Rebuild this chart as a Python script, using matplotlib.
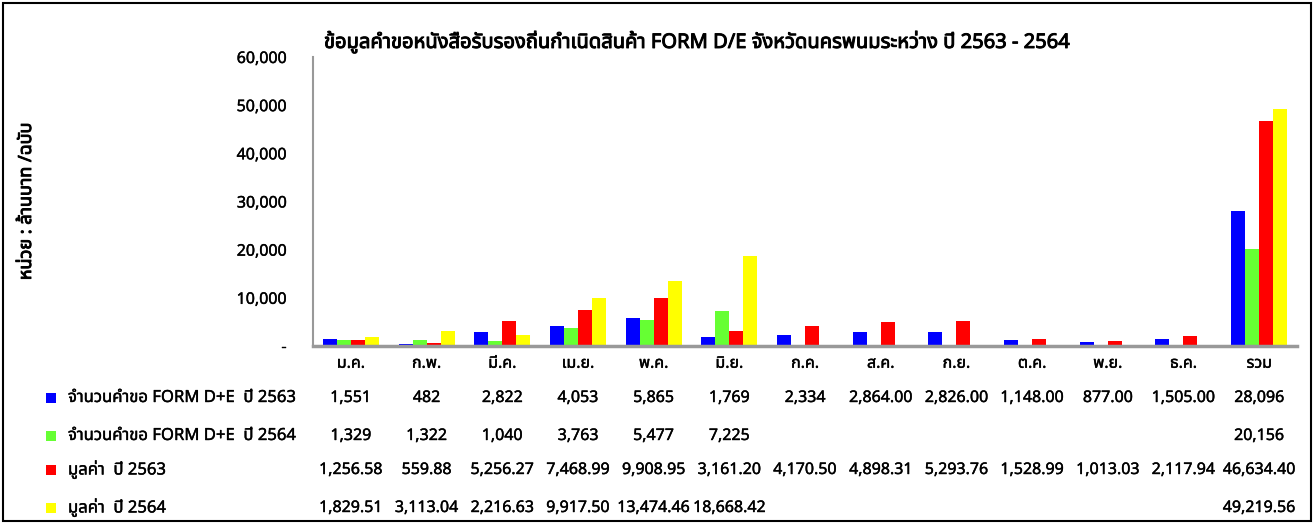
import numpy as np
import matplotlib
matplotlib.use("Agg")
import matplotlib.pyplot as plt
import matplotlib.patheffects as pe
from matplotlib import font_manager as fm
from matplotlib.ft2font import FT2Font
from matplotlib.patches import Rectangle

# ---------------- data ----------------
categories = ["ม.ค.", "ก.พ.", "มี.ค.", "เม.ย.", "พ.ค.", "มิ.ย.", "ก.ค.", "ส.ค.",
              "ก.ย.", "ต.ค.", "พ.ย.", "ธ.ค.", "รวม"]
series_names = ["จำนวนคำขอ FORM D+E  ปี 2563", "จำนวนคำขอ FORM D+E  ปี 2564",
                "มูลค่า  ปี 2563", "มูลค่า  ปี 2564"]
count_2563 = [1551, 482, 2822, 4053, 5865, 1769, 2334, 2864.00, 2826.00, 1148.00, 877.00, 1505.00, 28096]
count_2564 = [1329, 1322, 1040, 3763, 5477, 7225, None, None, None, None, None, None, 20156]
value_2563 = [1256.58, 559.88, 5256.27, 7468.99, 9908.95, 3161.20, 4170.50, 4898.31,
              5293.76, 1528.99, 1013.03, 2117.94, 46634.40]
value_2564 = [1829.51, 3113.04, 2216.63, 9917.50, 13474.46, 18668.42, None, None, None,
              None, None, None, 49219.56]
table_text = [
    ["1,551", "482", "2,822", "4,053", "5,865", "1,769", "2,334", "2,864.00", "2,826.00",
     "1,148.00", "877.00", "1,505.00", "28,096"],
    ["1,329", "1,322", "1,040", "3,763", "5,477", "7,225", "", "", "", "", "", "", "20,156"],
    ["1,256.58", "559.88", "5,256.27", "7,468.99", "9,908.95", "3,161.20", "4,170.50",
     "4,898.31", "5,293.76", "1,528.99", "1,013.03", "2,117.94", "46,634.40"],
    ["1,829.51", "3,113.04", "2,216.63", "9,917.50", "13,474.46", "18,668.42", "", "", "",
     "", "", "", "49,219.56"],
]
y_ticks = [0, 10000, 20000, 30000, 40000, 50000, 60000]
y_tick_labels = ["-", "10,000", "20,000", "30,000", "40,000", "50,000", "60,000"]
title = "ข้อมูลคำขอหนังสือรับรองถิ่นกำเนิดสินค้า FORM D/E จังหวัดนครพนมระหว่าง ปี 2563 - 2564"
y_label = "หน่วย : ล้านบาท /ฉบับ"
colors = ["#0000FF", "#66FF33", "#FF0000", "#FFFF00"]

# ---------------- font selection (Thai-capable) ----------------
preferred = ["Tahoma", "Leelawadee UI", "Leelawadee", "Noto Sans Thai", "Noto Sans Thai UI",
             "Loma", "Garuda", "Waree", "Sarabun", "Kinnari", "Norasi", "Umpush"]
thai_fams = []
for f in fm.fontManager.ttflist:
    try:
        cm = FT2Font(f.fname).get_charmap()
        if 0x0E01 in cm and 0x0E33 in cm and 0x0E49 in cm:
            thai_fams.append(f.name)
    except Exception:
        pass
thai_font = None
for p in preferred:
    if p in thai_fams:
        thai_font = p
        break
if thai_font is None and thai_fams:
    thai_font = sorted(set(thai_fams))[0]
families = ([thai_font] if thai_font else []) + ["DejaVu Sans"]
plt.rcParams["font.family"] = families

bold_fx = [pe.withStroke(linewidth=0.7, foreground="black")]
semi_fx = [pe.withStroke(linewidth=0.3, foreground="black")]

# ---------------- figure ----------------
W, H = 1314, 524
fig = plt.figure(figsize=(W / 100, H / 100), dpi=100)
ax = fig.add_axes([313 / W, 1 - 346 / H, (1297 - 313) / W, (346 - 57) / H])

series = [count_2563, count_2564, value_2563, value_2564]
n = len(categories)
x = np.arange(n)
bw = 0.185
for i, (vals, c) in enumerate(zip(series, colors)):
    v = np.array([np.nan if a is None else a for a in vals], dtype=float)
    ax.bar(x + (i - 1.5) * bw, v, width=bw, color=c, edgecolor="none", zorder=2)

ax.set_xlim(-0.5, n - 0.5)
ax.set_ylim(0, 60000)
ax.set_yticks(y_ticks)
ax.set_yticklabels(y_tick_labels, fontsize=11.5)
ax.tick_params(axis="y", length=0, pad=19)
ax.set_xticks(x)
ax.set_xticklabels(categories, fontsize=11.5)
ax.tick_params(axis="x", length=0, pad=7)
for lab in ax.get_xticklabels() + ax.get_yticklabels():
    lab.set_path_effects(semi_fx)
for s in ["top", "right"]:
    ax.spines[s].set_visible(False)
ax.spines["left"].set_color("#999999")
ax.spines["left"].set_linewidth(1.5)
ax.spines["bottom"].set_color("#999999")
ax.spines["bottom"].set_linewidth(2.5)

# title
fig.text(697 / W, 1 - 42 / H, title, ha="center", va="center", fontsize=14.5,
         fontweight="bold", path_effects=bold_fx)
# y label
fig.text(26 / W, 1 - 201 / H, y_label, ha="center", va="center", rotation=90,
         fontsize=13, fontweight="bold", path_effects=bold_fx)

# data table below chart
row_y = [398, 436, 470, 508]
for r, (ypix, name, c) in enumerate(zip(row_y, series_names, colors)):
    yf = 1 - ypix / H
    fig.patches.append(Rectangle((46 / W, yf - 5 / H), 10 / W, 10 / H, transform=fig.transFigure,
                                 facecolor=c, edgecolor="none"))
    fig.text(68 / W, yf, name, ha="left", va="center", fontsize=12, path_effects=semi_fx)
    for j in range(n):
        txt = table_text[r][j]
        if txt:
            xf = ax.transData.transform((x[j], 0))[0] / W
            fig.text(xf, yf, txt, ha="center", va="center", fontsize=11.5, path_effects=semi_fx)

# outer frame
fig.patches.append(Rectangle((3 / W, 3 / H), (W - 6) / W, (H - 6) / H, transform=fig.transFigure,
                             facecolor="none", edgecolor="black", linewidth=1.5))

fig.savefig("out.png", dpi=100)
